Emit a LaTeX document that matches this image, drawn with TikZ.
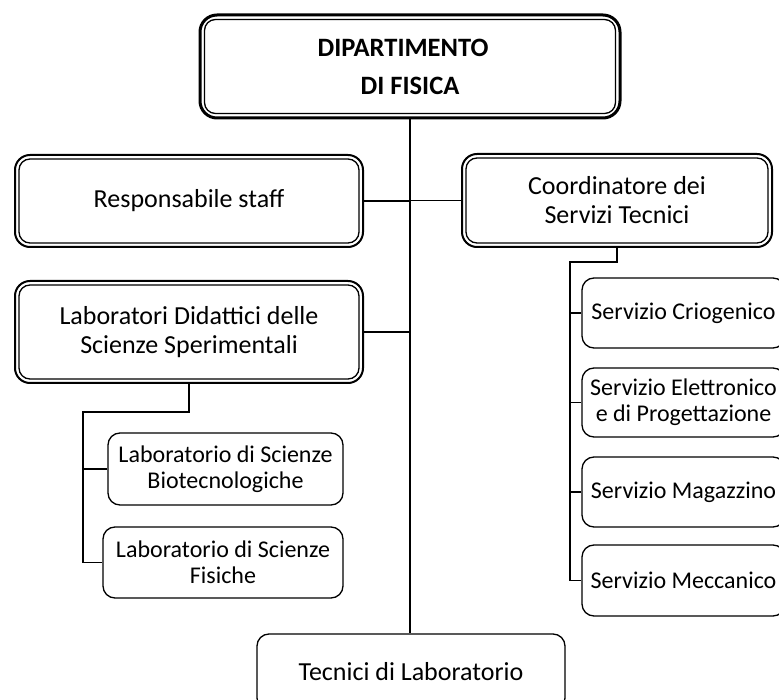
\documentclass[tikz,border=0pt]{standalone}
\usepackage{fontspec}
\setmainfont{Carlito}
\usetikzlibrary{calc}
\tikzset{
  box/.style={draw=black, fill=white, rounded corners=12pt, line width=1.3pt, inner sep=0pt, align=center, font=\fontsize{24}{26}\selectfont},
  dbox/.style={draw=black, fill=white, rounded corners=15pt, line width=2pt, inner sep=0pt, align=center, font=\fontsize{26}{29}\selectfont},
  topbox/.style={draw=black, fill=white, rounded corners=17pt, line width=3pt, inner sep=0pt, align=center, font=\fontsize{26.5}{38}\selectfont\bfseries},
  inner line/.style={draw=black, line width=1.3pt},
  conn/.style={draw=black, line width=1.5pt},
}
\newcommand\innerframe[3]{\draw[inner line, rounded corners=#3] ($(#1.south west)+(#2,-#2)$) rectangle ($(#1.north east)+(-#2,#2)$);}
\begin{document}
\begin{tikzpicture}[x=1pt, y=-1pt]
\useasboundingbox (0,0) rectangle (779,700);
\clip (0,0) rectangle (779,700);
\fill[white] (0,0) rectangle (779,700);

\coordinate (cj) at (570,262);
\coordinate (lj) at (83,412);

% top
\node[topbox, minimum width=420pt, minimum height=103pt] (top) at (410,66.5) {DIPARTIMENTO\hspace*{14pt}\\DI FISICA};
\innerframe{top}{6}{11pt}

\node[box, font=\fontsize{26}{29}\selectfont, minimum width=308pt, minimum height=76pt] (tec) at (411,672) {Tecnici di Laboratorio};

\draw[conn] (top.south) -- (top.south |- tec.north);

\node[dbox, minimum width=348pt, minimum height=92pt] (resp) at (189,201) {Responsabile staff};
\innerframe{resp}{5}{11pt}
\node[dbox, minimum width=348pt, minimum height=102pt] (lab) at (189,332) {Laboratori Didattici delle\\Scienze Sperimentali};
\innerframe{lab}{5}{11pt}
\node[dbox, minimum width=310pt, minimum height=93pt] (coord) at (617,200.5) {Coordinatore dei\\Servizi Tecnici};
\innerframe{coord}{5}{11pt}

\draw[conn] (resp.east) -- (resp.east -| top.south);
\draw[conn] (lab.east) -- (lab.east -| top.south);
\draw[conn] (coord.west) -- (coord.west -| top.south);

% right column
\node[box, minimum width=203pt, minimum height=70pt] (s1) at (683.5,313) {Servizio Criogenico};
\node[box, minimum width=203pt, minimum height=69pt] (s2) at (683.5,402.5) {Servizio Elettronico\\e di Progettazione};
\node[box, minimum width=203pt, minimum height=70pt] (s3) at (683.5,492) {Servizio Magazzino};
\node[box, minimum width=203pt, minimum height=71pt] (s4) at (683.5,580.5) {Servizio Meccanico};

\draw[conn] (coord.south) |- (cj) -- (cj |- s4.west) -- (s4.west);
\draw[conn] (cj |- s1.west) -- (s1.west);
\draw[conn] (cj |- s2.west) -- (s2.west);
\draw[conn] (cj |- s3.west) -- (s3.west);

% left column
\node[box, minimum width=235pt, minimum height=72pt] (lsb) at (225.5,469) {Laboratorio di Scienze\\Biotecnologiche};
\node[box, minimum width=240pt, minimum height=71pt] (lsf) at (223,562.5) {Laboratorio di Scienze\\Fisiche};

\draw[conn] (lab.south) |- (lj) -- (lj |- lsf.west) -- (lsf.west);
\draw[conn] (lj |- lsb.west) -- (lsb.west);
\end{tikzpicture}
\end{document}
